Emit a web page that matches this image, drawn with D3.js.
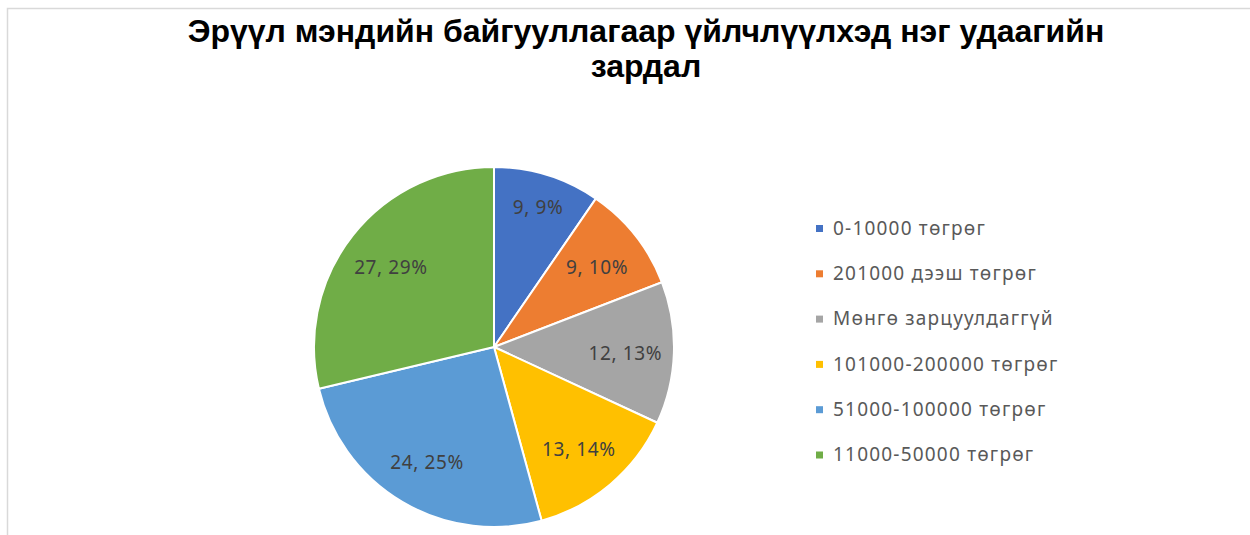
<!DOCTYPE html>
<html>
<head>
<meta charset="utf-8">
<script src="https://cdn.jsdelivr.net/npm/d3@7/dist/d3.min.js"></script>
<style>
  html, body { margin: 0; padding: 0; background: #ffffff; }
  svg { display: block; }
</style>
</head>
<body>
<svg id="chart" width="1250" height="535"></svg>
<script>
// Health facility one-visit spending distribution
const categories = [
  "0-10000 төгрөг",
  "201000 дээш төгрөг",
  "Мөнгө зарцуулдаггүй",
  "101000-200000 төгрөг",
  "51000-100000 төгрөг",
  "11000-50000 төгрөг"
];
const values = [9, 9, 12, 13, 24, 27];
const percentLabels = ["9%", "10%", "13%", "14%", "25%", "29%"];
const colors = ["#4472c4", "#ed7d31", "#a5a5a5", "#ffc000", "#5b9bd5", "#70ad47"];
const titleLines = ["Эрүүл мэндийн байгууллагаар үйлчлүүлхэд нэг удаагийн", "зардал"];

const svg = d3.select("#chart");
const W = 1250, H = 535;

// chart area border
svg.append("path")
  .attr("d", `M7.5,${H} L7.5,8.5 L${W},8.5`)
  .attr("fill", "none")
  .attr("stroke", "#d9d9d9")
  .attr("stroke-width", 1.5);

// title
svg.append("g").selectAll("text")
  .data(titleLines)
  .join("text")
  .attr("x", 646)
  .attr("y", (d, i) => 42 + i * 35)
  .attr("text-anchor", "middle")
  .attr("font-family", "'Liberation Sans', Arial, sans-serif")
  .attr("font-weight", "bold")
  .attr("font-size", 32)
  .attr("fill", "#000000")
  .text(d => d);

// pie
const cx = 494, cy = 347, R = 180;
const pie = d3.pie().sort(null).value(d => d.value);
const data = categories.map((c, i) => ({ name: c, value: values[i], pct: percentLabels[i], color: colors[i] }));
const arcs = pie(data);
const arc = d3.arc().innerRadius(0).outerRadius(R);
const labelArc = d3.arc().innerRadius(R * 0.73).outerRadius(R * 0.73);

const g = svg.append("g").attr("transform", `translate(${cx},${cy})`);
g.selectAll("path.slice")
  .data(arcs)
  .join("path")
  .attr("class", "slice")
  .attr("d", arc)
  .attr("fill", d => d.data.color)
  .attr("stroke", "#ffffff")
  .attr("stroke-width", 2)
  .attr("stroke-linejoin", "round");

g.selectAll("text.lbl")
  .data(arcs)
  .join("text")
  .attr("class", "lbl")
  .attr("transform", d => {
    const [x, y] = labelArc.centroid(d);
    // narrow leading slice: push its label further out
    const k = d.index === 0 ? 1.13 : 1;
    return `translate(${x * k},${y * k + 2})`;
  })
  .attr("text-anchor", "middle")
  .attr("dy", "0.35em")
  .attr("font-family", "'Noto Sans', 'Open Sans', sans-serif")
  .attr("font-size", 19)
  .attr("letter-spacing", 0.6)
  .attr("fill", "#404040")
  .text(d => `${d.data.value}, ${d.data.pct}`);

// legend
const legend = svg.append("g").attr("transform", "translate(816,228)");
const rows = legend.selectAll("g")
  .data(data)
  .join("g")
  .attr("transform", (d, i) => `translate(0,${i * 45.3})`);
rows.append("rect")
  .attr("x", 0).attr("y", -3)
  .attr("width", 7).attr("height", 7)
  .attr("fill", d => d.color);
rows.append("text")
  .attr("x", 17)
  .attr("dy", "0.35em")
  .attr("font-family", "'Noto Sans', 'Open Sans', sans-serif")
  .attr("font-size", 19)
  .attr("letter-spacing", 1.2)
  .attr("fill", "#595959")
  .text(d => d.name);
</script>
</body>
</html>
